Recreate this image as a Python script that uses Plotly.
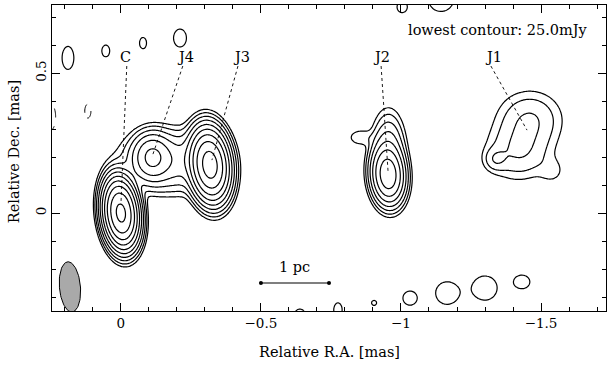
import numpy as np
import plotly.graph_objects as go

# ---- Gaussian model components (RA offset [mas], Dec offset [mas], peak [mJy], sigma minor, sigma major [mas], PA [deg])
comp_name = ["C", "J4", "J3", "jet", "J2", "J2b", "J2c",
             "J1a", "J1b", "J1c", "J1d"]
comp_ra   = [0.0, -0.111, -0.318, -0.180, -0.954, -0.955, -0.855,
             -1.460, -1.420, -1.338, -1.540]
comp_dec  = [0.0, 0.200, 0.172, 0.185, 0.136, 0.220, 0.270,
             0.335, 0.220, 0.192, 0.150]
comp_peak = [15300, 800, 8900, 300, 2500, 300, 45,
             100, 100, 70, 30]
comp_smin = [0.027, 0.035, 0.031, 0.090, 0.028, 0.030, 0.030,
             0.068, 0.068, 0.025, 0.030]
comp_smaj = [0.054, 0.043, 0.058, 0.057, 0.050, 0.070, 0.020,
             0.060, 0.060, 0.025, 0.030]
comp_pa   = [6, 0, 6, 0, 4, 0, 0,
             0, 0, 0, 0]

# ---- isolated noise peaks (single 25 mJy contour); negative ones are dashed
noise_ra   = [0.189, 0.054, -0.079, -0.211, -1.004, -1.143, -1.032, -1.164, -1.300, -1.432, -0.639, -0.775, -0.904, 0.118, 0.254]
noise_dec  = [0.554, 0.579, 0.607, 0.625, 0.736, 0.765, -0.304, -0.286, -0.268, -0.246, -0.361, -0.346, -0.321, 0.364, 0.343]
noise_rx   = [0.021, 0.014, 0.0125, 0.023, 0.018, 0.045, 0.025, 0.040, 0.043, 0.028, 0.018, 0.015, 0.009, 0.011, 0.021]
noise_ry   = [0.041, 0.021, 0.020, 0.032, 0.020, 0.045, 0.025, 0.040, 0.043, 0.024, 0.018, 0.025, 0.009, 0.025, 0.050]
noise_sign = [1, 1, 1, 1, 1, 1, 1, 1, 1, 1, 1, 1, 1, -1, -1]

lowest_contour = 25.0  # mJy
n_levels = 10

# ---- beam
beam_ra, beam_dec = 0.182, -0.264
beam_maj, beam_min, beam_pa = 0.180, 0.075, 5.0

# ---- labels and leader lines
lab_text = ["C", "J4", "J3", "J2", "J1"]
lab_ra   = [-0.018, -0.232, -0.432, -0.932, -1.329]
lab_dec  = [0.557, 0.557, 0.557, 0.557, 0.557]
lead_ra0 = [-0.021, -0.221, -0.418, -0.929, -1.321]
lead_dec0 = [0.525, 0.525, 0.525, 0.525, 0.525]
lead_ra1 = [0.0, -0.111, -0.325, -0.954, -1.45]
lead_dec1 = [0.029, 0.200, 0.189, 0.146, 0.296]

# ---- scale bar
bar_ra = [-0.5, -0.743]
bar_dec = [-0.25, -0.25]
bar_label = "1 pc"

# ---- build the model image
xg = np.arange(0.32, -1.82, -0.004)
yg = np.arange(-0.42, 0.82, 0.004)
X, Y = np.meshgrid(xg, yg)
I = np.zeros_like(X)
for ra, de, pk, smin, smaj, pa in zip(comp_ra, comp_dec, comp_peak, comp_smin, comp_smaj, comp_pa):
    p = np.deg2rad(pa)
    dx, dy = X - ra, Y - de
    v = dx * np.sin(p) + dy * np.cos(p)
    u = dx * np.cos(p) - dy * np.sin(p)
    I += pk * np.exp(-0.5 * (u / smin) ** 2 - 0.5 * (v / smaj) ** 2)
amp = lowest_contour * np.exp(0.5)
for ra, de, rx, ry, sg in zip(noise_ra, noise_dec, noise_rx, noise_ry, noise_sign):
    I += sg * amp * np.exp(-0.5 * ((X - ra) / rx) ** 2 - 0.5 * ((Y - de) / ry) ** 2)

Zpos = np.log2(np.clip(I, 1e-3, None) / lowest_contour)
Zpos = np.round(Zpos, 3)
Zneg = np.round(I, 2)

font = dict(family="DejaVu Serif", size=14.5, color="black")
tfont = dict(family="DejaVu Serif", size=13.5, color="black")
fig = go.Figure()
fig.add_trace(go.Contour(
    x=np.round(xg, 4), y=np.round(yg, 4), z=Zpos, autocontour=False,
    contours=dict(start=0, end=n_levels - 1, size=1, coloring="none"),
    line=dict(color="black", width=1.2), showscale=False, hoverinfo="skip"))
fig.add_trace(go.Contour(
    x=np.round(xg, 4), y=np.round(yg, 4), z=Zneg, autocontour=False,
    contours=dict(start=-lowest_contour, end=-lowest_contour + 0.1, size=10, coloring="none"),
    line=dict(color="black", width=1.0, dash="dash"), showscale=False, hoverinfo="skip"))

# beam ellipse
t = np.linspace(0, 2 * np.pi, 80)
bp = np.deg2rad(beam_pa)
bu = 0.5 * beam_min * np.cos(t)
bv = 0.5 * beam_maj * np.sin(t)
bx = beam_ra + bu * np.cos(bp) + bv * np.sin(bp)
by = beam_dec - bu * np.sin(bp) + bv * np.cos(bp)
fig.add_trace(go.Scatter(x=bx, y=by, mode="lines", fill="toself", fillcolor="#a9a9a9",
                         line=dict(color="black", width=1), hoverinfo="skip", showlegend=False))

# leader lines
for a0, d0, a1, d1 in zip(lead_ra0, lead_dec0, lead_ra1, lead_dec1):
    fig.add_trace(go.Scatter(x=[a0, a1], y=[d0, d1], mode="lines",
                             line=dict(color="black", width=0.9, dash="dot"),
                             hoverinfo="skip", showlegend=False))
# scale bar
fig.add_trace(go.Scatter(x=bar_ra, y=bar_dec, mode="lines+markers",
                         line=dict(color="black", width=1.2), marker=dict(size=4, color="black"),
                         hoverinfo="skip", showlegend=False))

ann = []
for tx, ra, de in zip(lab_text, lab_ra, lab_dec):
    ann.append(dict(x=ra, y=de, text=tx, showarrow=False, font=font, xanchor="center", yanchor="middle"))
ann.append(dict(x=np.mean(bar_ra), y=-0.193, text=bar_label, showarrow=False, font=font))
ann.append(dict(x=-1.675, y=0.654, text="lowest contour: 25.0mJy", showarrow=False, font=font,
                xanchor="right", yanchor="middle"))
ann.append(dict(xref="paper", yref="paper", x=0.5, y=-0.134, text="Relative R.A. [mas]",
                showarrow=False, font=font, xanchor="center", yanchor="middle"))
ann.append(dict(xref="paper", yref="paper", x=-0.068, y=0.52, text="Relative Dec. [mas]",
                showarrow=False, font=font, textangle=-90, xanchor="center", yanchor="middle"))

x_major = [0, -0.5, -1, -1.5]
x_minor = [round(v, 1) for v in np.arange(0.2, -1.75, -0.1)]
y_major = [0, 0.5]
y_minor = [round(v, 1) for v in np.arange(-0.3, 0.75, 0.1)]

fig.update_layout(
    width=608, height=366, margin=dict(l=52, r=2, t=5, b=55),
    paper_bgcolor="white", plot_bgcolor="white", showlegend=False, font=tfont,
    annotations=ann,
    xaxis=dict(range=[0.246, -1.732], tickvals=x_major, ticktext=["0", "\u22120.5", "\u22121", "\u22121.5"],
               ticks="inside", ticklen=8, tickcolor="black", mirror="allticks", showline=True,
               linecolor="black", linewidth=1, showgrid=False, zeroline=False, tickfont=tfont,
               minor=dict(tickvals=x_minor, ticks="inside", ticklen=4, tickcolor="black")),
    yaxis=dict(range=[-0.35, 0.743], tickvals=y_major, ticktext=["0", "0.5"], tickangle=-90,
               ticks="inside", ticklen=8, tickcolor="black", mirror="allticks", showline=True,
               linecolor="black", linewidth=1, showgrid=False, zeroline=False, tickfont=tfont,
               minor=dict(tickvals=y_minor, ticks="inside", ticklen=4, tickcolor="black")),
)
fig.write_html("out.html")
